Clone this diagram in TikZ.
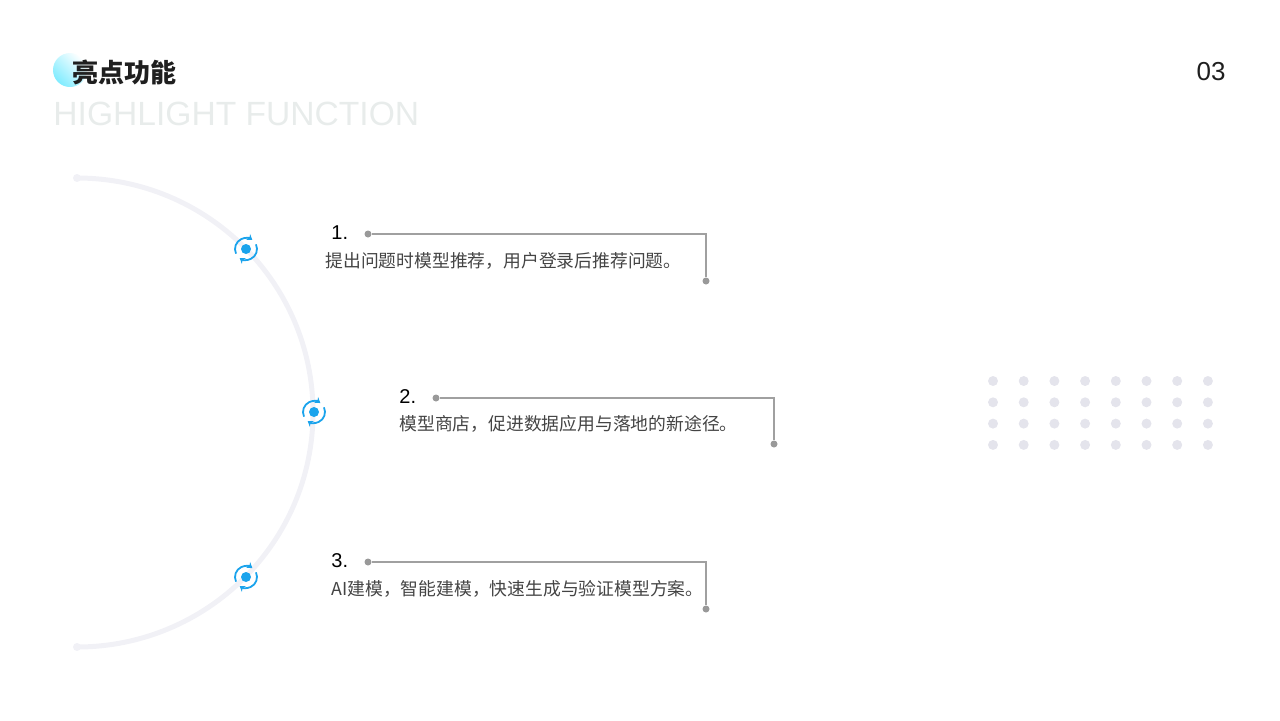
\documentclass[tikz,border=0pt]{standalone}
\usepackage{fontspec}
\setmainfont{Noto Sans CJK SC}
\newfontfamily\cjk{Noto Sans CJK SC}
\newfontfamily\latin{Liberation Sans}
\usetikzlibrary{positioning,calc,arrows.meta}
\definecolor{markblue}{HTML}{1AA3EC}
\definecolor{linegray}{HTML}{A0A0A0}
\definecolor{dotgray}{HTML}{E4E4EC}
\definecolor{arcgray}{HTML}{F1F1F6}
\definecolor{textgray}{HTML}{444444}
\definecolor{subgray}{HTML}{E8ECEB}
\tikzset{
  pin/.style={circle, fill=gray!80, inner sep=0pt, minimum size=3.5pt},
  leader/.style={draw=linegray, line width=0.6pt},
  item/.style={anchor=west, inner sep=0pt, font=\cjk\fontsize{8.9}{10}\selectfont, text=textgray},
  num/.style={anchor=west, inner sep=0pt, font=\latin\fontsize{10}{11}\selectfont},
  ring/.style={markblue, line width=0.9pt, -{Stealth[length=2.6pt,width=3.6pt]}},
}
\begin{document}
\begin{tikzpicture}[x=0.5pt,y=-0.5pt]
      \useasboundingbox (0,0) rectangle (1280,720);

      % title
      \shade [left color=cyan!25!blue!20!cyan!50, right color=white, shading angle=135] (70,70) circle (17);
      \draw (72, 72) node [anchor=west, inner sep=0pt, text=black!88, font=\cjk\bfseries\fontsize{13}{14}\selectfont] (title) {亮点功能};
      \draw (53, 114) node [anchor=west, inner sep=0pt, text=subgray, font=\latin\fontsize{16.8}{18}\selectfont] (subtitle) {HIGHLIGHT FUNCTION};
      \draw (1226, 72) node [anchor=east, inner sep=0pt, text=black!88, font=\latin\fontsize{13}{14}\selectfont] (page) {03};

      % arc
      \draw [arcgray, line width=2.5pt] (77,178) arc[start angle=-90, end angle=90, x radius=236, y radius=234.5];
      \fill [arcgray] (77,178) circle (4) (77,647) circle (4);

      % markers
      \foreach \n/\x/\y in {m1/246/249, m2/314/412, m3/246/577} {
        \node [circle, fill=markblue, minimum size=5pt, inner sep=0pt] (\n) at (\x,\y) {};
        \draw [ring] (\x,\y) ++(-25:11) arc[start angle=-25, end angle=125, radius=11];
        \draw [ring] (\x,\y) ++(155:11) arc[start angle=155, end angle=305, radius=11];
      }

      % item 1
      \draw (331, 233) node [num] (n1) {1.};
      \draw (325, 261) node [item] (t1) {提出问题时模型推荐，用户登录后推荐问题。};
      \node [pin] (p1a) at (368,234) {};
      \node [pin] (p1b) at (706,281) {};
      \draw [leader] (p1a) -| (p1b);

      % item 2
      \draw (399, 397) node [num] (n2) {2.};
      \draw (399, 424) node [item] (t2) {模型商店，促进数据应用与落地的新途径。};
      \node [pin] (p2a) at (436,398) {};
      \node [pin] (p2b) at (774,444) {};
      \draw [leader] (p2a) -| (p2b);

      % item 3
      \draw (331, 561) node [num] (n3) {3.};
      \draw (331, 589) node [item] (t3) {AI建模，智能建模，快速生成与验证模型方案。};
      \node [pin] (p3a) at (368,562) {};
      \node [pin] (p3b) at (706,609) {};
      \draw [leader] (p3a) -| (p3b);

      % dot grid
      \foreach \i in {0,...,7}
        \foreach \j in {0,...,3}
          \fill [dotgray] ({993+\i*30.7},{381+\j*21.3}) circle (5);
\end{tikzpicture}
\end{document}
